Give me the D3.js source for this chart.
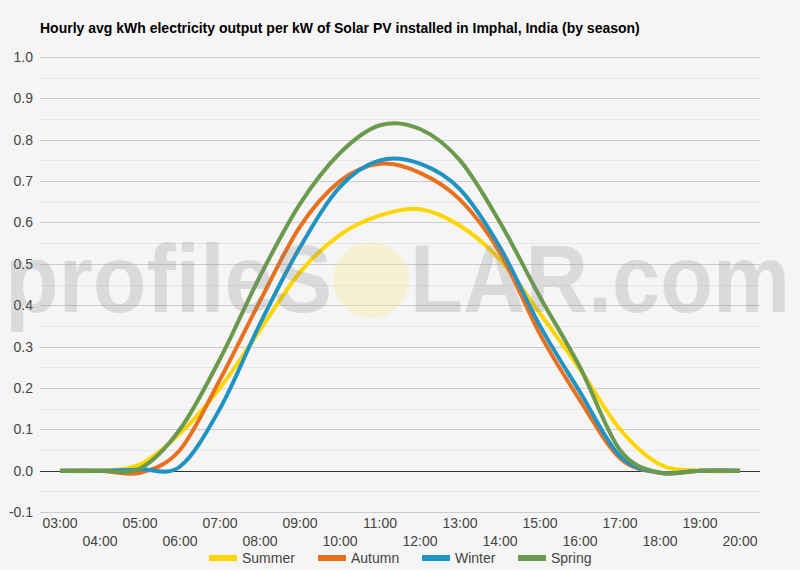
<!DOCTYPE html>
<html>
<head>
<meta charset="utf-8">
<script src="https://cdn.jsdelivr.net/npm/d3@7"></script>
<style>
  body { margin: 0; background: #f5f5f5; }
  svg { display: block; font-family: Arial, "Liberation Sans", sans-serif; }
</style>
</head>
<body>
<svg width="800" height="570"></svg>
<script>
var hours = ['03:00','04:00','05:00','06:00','07:00','08:00','09:00','10:00','11:00','12:00',
             '13:00','14:00','15:00','16:00','17:00','18:00','19:00','20:00'];

var summer = [0, 0, 0.015, 0.09, 0.20, 0.34, 0.48, 0.57, 0.617, 0.632, 0.592, 0.51, 0.38, 0.245, 0.10, 0.015, 0, 0];
var autumn = [0, 0, -0.005, 0.05, 0.22, 0.41, 0.59, 0.70, 0.742, 0.72, 0.655, 0.527, 0.33, 0.17, 0.03, -0.005, 0, 0];
var winter = [0, 0, 0.003, 0.01, 0.15, 0.355, 0.54, 0.686, 0.75, 0.742, 0.68, 0.54, 0.35, 0.19, 0.035, -0.005, 0, 0];
var spring = [0, 0, 0.005, 0.10, 0.27, 0.47, 0.645, 0.768, 0.835, 0.826, 0.75, 0.60, 0.42, 0.25, 0.05, -0.005, 0, 0];

var seriesNames = ['Summer', 'Autumn', 'Winter', 'Spring'];
var yTicks = [1.0, 0.9, 0.8, 0.7, 0.6, 0.5, 0.4, 0.3, 0.2, 0.1, 0.0, -0.1];

var title = 'Hourly avg kWh electricity output per kW of Solar PV installed in Imphal, India (by season)';

var colors = {Summer: '#fdd600', Autumn: '#e8711f', Winter: '#1f93c4', Spring: '#6b9a4e'};
var series = [
  {name: 'Summer', values: summer},
  {name: 'Autumn', values: autumn},
  {name: 'Winter', values: winter},
  {name: 'Spring', values: spring}
];

var svg = d3.select('svg');
var plotLeft = 40, plotRight = 760, plotTop = 57, plotBottom = 512;

var x = d3.scalePoint().domain(hours).range([60, 740]);
var y = d3.scaleLinear().domain([-0.1, 1.0]).range([plotBottom, plotTop]);

svg.append('rect').attr('width', 800).attr('height', 570).attr('fill', '#f5f5f5');

// title
svg.append('text')
  .attr('x', 40).attr('y', 33)
  .attr('font-size', 14).attr('font-weight', 'bold').attr('fill', '#000')
  .text(title);

// minor grid (every 0.05)
var minor = d3.range(-0.05, 1.0, 0.1);
svg.append('g').selectAll('line')
  .data(minor).enter().append('line')
  .attr('x1', plotLeft).attr('x2', plotRight)
  .attr('y1', function(d) { return Math.round(y(d)) + 0.5; })
  .attr('y2', function(d) { return Math.round(y(d)) + 0.5; })
  .attr('stroke', '#e6e6e6');

// major grid
svg.append('g').selectAll('line')
  .data(yTicks).enter().append('line')
  .attr('x1', plotLeft).attr('x2', plotRight)
  .attr('y1', function(d) { return Math.round(y(d)) + 0.5; })
  .attr('y2', function(d) { return Math.round(y(d)) + 0.5; })
  .attr('stroke', function(d) { return d === 0 ? '#333' : '#cccccc'; });

// y labels
svg.append('g').selectAll('text')
  .data(yTicks).enter().append('text')
  .attr('x', 33).attr('y', function(d) { return y(d) + 5; })
  .attr('text-anchor', 'end').attr('font-size', 14).attr('fill', '#444')
  .text(function(d) { return d.toFixed(1); });

// x labels, staggered in two rows
svg.append('g').selectAll('text')
  .data(hours).enter().append('text')
  .attr('x', function(d) { return x(d); })
  .attr('y', function(d, i) { return i % 2 === 0 ? 528 : 546; })
  .attr('text-anchor', 'middle').attr('font-size', 14).attr('fill', '#444')
  .text(function(d) { return d; });

// lines
var line = d3.line()
  .x(function(d, i) { return x(hours[i]); })
  .y(function(d) { return y(d); })
  .curve(d3.curveCatmullRom.alpha(0));

svg.append('g').selectAll('path')
  .data(series).enter().append('path')
  .attr('d', function(d) { return line(d.values); })
  .attr('fill', 'none')
  .attr('stroke', function(d) { return colors[d.name]; })
  .attr('stroke-width', 4)
  .attr('stroke-linejoin', 'round');

// watermark
var wm = svg.append('g').attr('pointer-events', 'none');
wm.append('circle')
  .attr('cx', 371).attr('cy', 280).attr('r', 38)
  .attr('fill', '#f7e96a').attr('opacity', 0.25);
wm.append('text')
  .attr('x', 5).attr('y', 312)
  .attr('font-size', 96).attr('font-weight', 'bold').attr('fill', '#808080').attr('opacity', 0.22)
  .attr('textLength', 327).attr('lengthAdjust', 'spacingAndGlyphs')
  .text('profileS');
wm.append('text')
  .attr('x', 410).attr('y', 312)
  .attr('font-size', 96).attr('font-weight', 'bold').attr('fill', '#808080').attr('opacity', 0.22)
  .attr('textLength', 380).attr('lengthAdjust', 'spacingAndGlyphs')
  .text('LAR.com');

// legend
var legendX = {Summer: 209, Autumn: 318, Winter: 422, Spring: 518};
var legend = svg.append('g').selectAll('g')
  .data(seriesNames).enter().append('g');
legend.append('line')
  .attr('x1', function(d) { return legendX[d]; })
  .attr('x2', function(d) { return legendX[d] + 28; })
  .attr('y1', 558).attr('y2', 558)
  .attr('stroke', function(d) { return colors[d]; })
  .attr('stroke-width', 6);
legend.append('text')
  .attr('x', function(d) { return legendX[d] + 33; })
  .attr('y', 563)
  .attr('font-size', 14).attr('fill', '#444')
  .text(function(d) { return d; });
</script>
</body>
</html>
